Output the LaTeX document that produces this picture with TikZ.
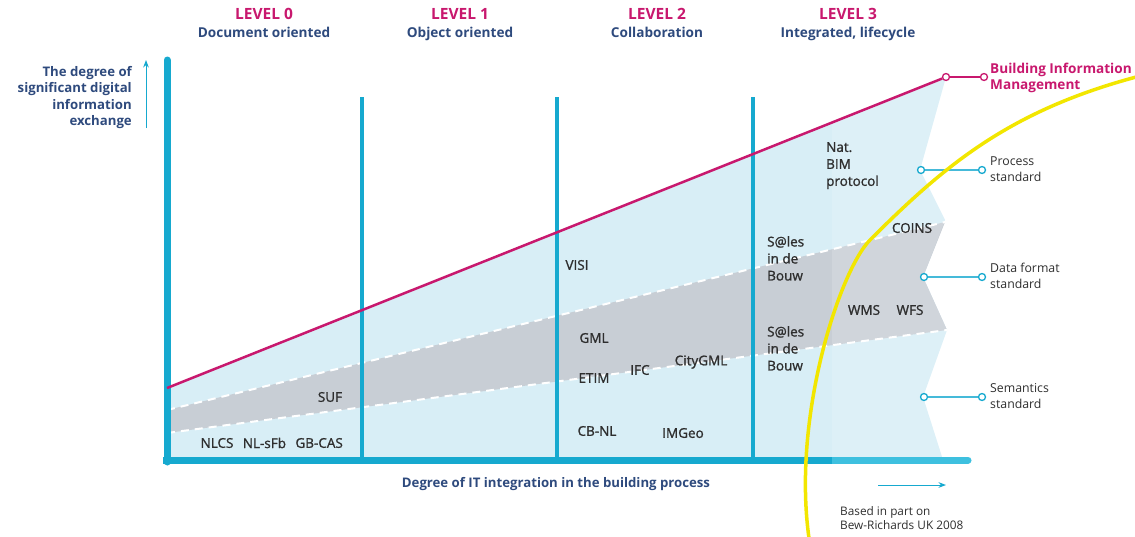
\documentclass[tikz,border=0pt]{standalone}
\usepackage{fontspec}
\setmainfont{Open Sans}
\newfontfamily\tagfont[FakeBold=1.2]{Open Sans}
\usetikzlibrary{positioning,arrows.meta}
\definecolor{bimpink}{HTML}{C8186E}
\definecolor{navy}{HTML}{2E4A7D}
\definecolor{bar}{HTML}{16A9CF}
\definecolor{barlight}{HTML}{3EC0DF}
\definecolor{skyfill}{HTML}{D8EEF6}
\definecolor{bandgray}{HTML}{C8CED5}
\definecolor{signal}{HTML}{F2E600}
\definecolor{txtgray}{HTML}{2E2E2E}
\tikzset{
  >=Stealth,
  ringdot/.style={circle, draw=#1, fill=white, line width=1.3pt, minimum size=7pt, inner sep=0pt},
}

\begin{document}
\begin{tikzpicture}[
  x=1pt, y=-1pt,
  lvl/.style={font=\bfseries\fontsize{15.5}{17}\selectfont, text=bimpink, inner sep=0pt},
  lvlsub/.style={font=\bfseries\fontsize{13.6}{15}\selectfont, text=navy, inner sep=0pt},
  std/.style={font=\tagfont\fontsize{13.5}{17}\selectfont, text=txtgray, inner sep=0pt},
  stdml/.style={std, align=left, anchor=north west},
  side/.style={font=\fontsize{12.3}{16.5}\selectfont, text=txtgray, align=left, anchor=west, inner sep=0pt},
  axis/.style={font=\bfseries\fontsize{13.2}{16.5}\selectfont, text=navy, inner sep=0pt},
  stdlink/.style={draw=bar!80, line width=1.5pt},
  levelbar/.style={draw=bar, line width=4pt},
  dashline/.style={draw=white, line width=2pt, dash pattern=on 8pt off 6pt},
]
\useasboundingbox (0,0) rectangle (1135,536);

% shaded areas
\fill[skyfill] (167,388) -- (946,77) -- (920,170) -- (945,220) -- (923,277)
  -- (947,330) -- (923,397) -- (943,460) -- (167,460) -- cycle;
\fill[bandgray] (167,410) -- (945,222) -- (923,277) -- (947,330) -- (167,433) -- cycle;
\begin{scope}
  \clip (167,388) -- (946,77) -- (920,170) -- (945,220) -- (923,277)
    -- (947,330) -- (923,397) -- (943,460) -- (167,460) -- cycle;
  \fill[white, opacity=0.15] (832,60) -- (1000,60) -- (1000,470) -- (832,470) -- cycle;
\end{scope}
\draw[dashline] (167,410) -- (945,222);
\draw[dashline] (167,433) -- (947,330);

% axes and level bars
\coordinate (axtop) at (167,60);
\coordinate (axfoot) at (167,462);
\coordinate (barend) at (832,460);
\coordinate (barright) at (968,460);
\draw[bar, line width=7pt, line cap=round] (axtop) -- (axfoot);
\draw[barlight, line width=7pt, line cap=round] (barend) -- (barright);
\draw[bar, line width=7pt] (163,460) -- (barend);
\foreach \xx in {362,557,753}
  \draw[levelbar] (\xx,97) -- (\xx,458);

% level headers
\node[lvl] (lv0) at (264,14) {LEVEL 0};
\node[lvlsub, below=7pt of lv0] (lv0s) {Document oriented};
\node[lvl] (lv1) at (460,14) {LEVEL 1};
\node[lvlsub, below=7pt of lv1] (lv1s) {Object oriented};
\node[lvl] (lv2) at (657,14) {LEVEL 2};
\node[lvlsub, below=7pt of lv2] (lv2s) {Collaboration};
\node[lvl] (lv3) at (848,14) {LEVEL 3};
\node[lvlsub, below=7pt of lv3] (lv3s) {Integrated, lifecycle};

% axis labels
\node[axis, align=right, anchor=north east] (yaxis) at (132,66)
  {The degree of\\significant digital\\information\\exchange};
\coordinate (yarrowlow) at (146,128);
\coordinate (yarrowtop) at (146,60);
\draw[->, bar, line width=1pt] (yarrowlow) -- (yarrowtop);
\node[axis] (xaxis) at (556,484) {Degree of IT integration in the building process};
\coordinate (xarrowleft) at (878,485);
\coordinate (xarrowright) at (946,485);
\draw[->, bar, line width=1pt] (xarrowleft) -- (xarrowright);
\node[side, font=\fontsize{11.8}{14.5}\selectfont, anchor=north west] (source) at (840,506)
  {Based in part on\\Bew-Richards UK 2008};

% standard links on the right
\node[ringdot=bar] (procA) at (921,170) {};
\node[ringdot=bar] (procB) at (982,170) {};
\draw[stdlink] (procA) -- (procB);
\node[side] (proc) at (990,169) {Process\\standard};
\node[ringdot=bar] (dataA) at (924,277) {};
\node[ringdot=bar] (dataB) at (982,277) {};
\draw[stdlink] (dataA) -- (dataB);
\node[side] (data) at (990,276) {Data format\\standard};
\node[ringdot=bar] (semA) at (924,397) {};
\node[ringdot=bar] (semB) at (982,397) {};
\draw[stdlink] (semA) -- (semB);
\node[side] (sem) at (990,396) {Semantics\\standard};

% BIM line
\coordinate (bimstart) at (167,388);
\node[ringdot=bimpink] (bimA) at (946,77) {};
\node[ringdot=bimpink] (bimB) at (984,77) {};
\draw[bimpink, line width=2.5pt] (bimstart) -- (bimA);
\draw[bimpink, line width=2pt] (bimA) -- (bimB);
\node[axis, font=\bfseries\fontsize{13.6}{16.5}\selectfont, text=bimpink, align=left, anchor=west] (bim) at (990,78)
  {Building Information\\Management};

% standards
\node[std] (nlcs) at (217,443) {NLCS};
\node[std, right=9pt of nlcs] (nlsfb) {NL-sFb};
\node[std, right=9pt of nlsfb] (gbcas) {GB-CAS};
\node[std] (suf) at (330,397) {SUF};
\node[std] (visi) at (577,265) {VISI};
\node[std] (gml) at (594,338) {GML};
\node[std] (etim) at (594,378) {ETIM};
\node[std] (ifc) at (640,370) {IFC};
\node[std] (citygml) at (701,362) {CityGML};
\node[std] (cbnl) at (597,431) {CB-NL};
\node[std] (imgeo) at (683,433) {IMGeo};
\node[stdml] (sales1) at (767,236) {S@les\\in de\\Bouw};
\node[stdml] (sales2) at (767,326) {S@les\\in de\\Bouw};
\node[stdml] (natbim) at (826,142) {Nat.\\BIM\\protocol};
\node[std] (coins) at (912,228) {COINS};
\node[std] (wms) at (864,310) {WMS};
\node[std] (wfs) at (910,310) {WFS};

% yellow frontier
\coordinate (arcfoot) at (810,545);
\coordinate (arcmid) at (870,240);
\coordinate (arcend) at (1140,76);
\draw[signal, line width=3.5pt] (arcfoot) .. controls (790,420) and (840,270) .. (arcmid)
  .. controls (945,165) and (1010,110) .. (arcend);
\end{tikzpicture}
\end{document}
